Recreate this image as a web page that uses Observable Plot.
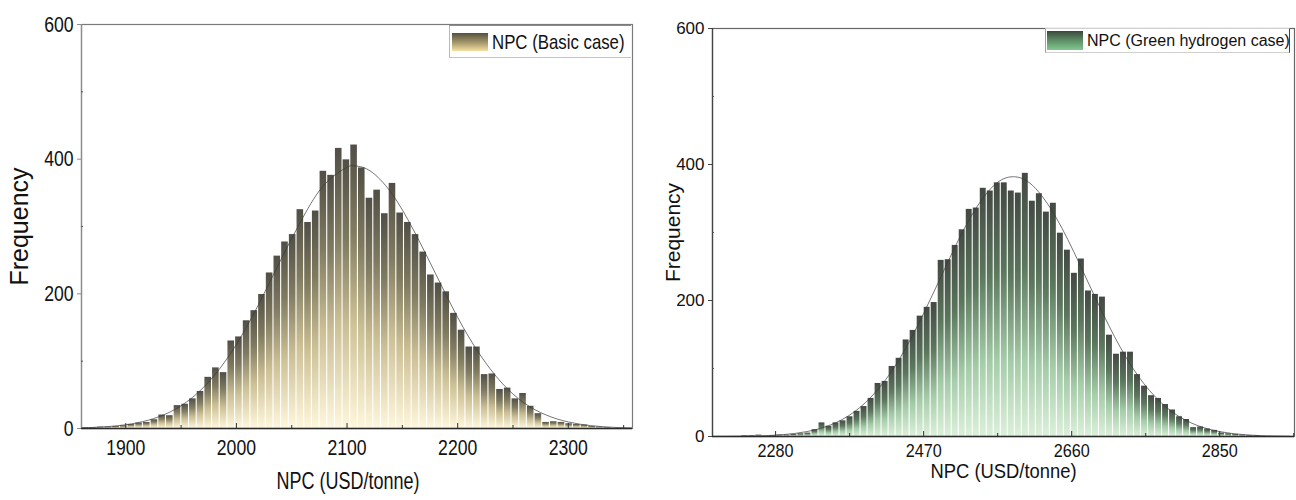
<!DOCTYPE html>
<html>
<head>
<meta charset="utf-8">
<script src="https://cdn.jsdelivr.net/npm/d3@7"></script>
<script src="https://cdn.jsdelivr.net/npm/@observablehq/plot@0.6"></script>
<style>
  html, body { margin: 0; padding: 0; background: #fff; }
  #wrap { position: relative; width: 1296px; height: 500px; overflow: hidden; font-family: "Liberation Sans", Arial, sans-serif; }
  #left, #right { position: absolute; top: 0; }
  #left { left: 0; }
  #right { left: 640px; }
  .legend { position: absolute; box-sizing: border-box; display: flex; align-items: center; background: #fff; color: #111; white-space: nowrap; overflow: hidden; }
  .sw { flex: none; }
  .narrow { display: inline-block; transform: scaleX(0.8); transform-origin: left center; }
</style>
</head>
<body>
<div id="wrap">
  <div id="left"></div>
  <div id="right"></div>
  <div class="legend" id="legL" style="left:449px; top:25px; width:182px; height:33px; border-top:1px solid #8a8a8a; border-bottom:1px solid #c4c4c4; border-left:1px solid #b8b8b8; padding-left:2px;">
    <div class="sw" style="width:36px; height:18px; background:linear-gradient(to bottom,#564f3e,#a89a6e 55%,#f6e0a0);"></div>
    <span class="narrow" style="margin-left:4px; font-size:21px;">NPC (Basic case)</span>
  </div>
  <div class="legend" id="legR" style="left:1045px; top:28px; width:245px; height:25px; border-top:1px solid #d0d0d0; border-bottom:1px solid #d0d0d0; border-left:1px solid #a0a0a0; border-right:1px solid #444; padding-left:1px;">
    <div class="sw" style="width:36px; height:19px; background:linear-gradient(to bottom,#3b473b,#5f8f66 50%,#82c892);"></div>
    <span style="margin-left:4px; font-size:16px;">NPC (Green hydrogen case)</span>
  </div>
</div>
<script>
// ---------- DATA ----------
// Left panel: NPC, basic case
const leftBinStart = 1860;
const leftBinWidth = 6.94;
const leftCounts = [1,1,2,2,3,4,6,8,9,13, 20,19,34,36,44,55,76,90,83,
  130,136,160,175,199,231,256,277,288,
  325,306,323,382,376,416,399,421,387,
  342,354,319,364,320,306,288,262,228,
  216,203,171,146,121,121,80,81,58,
  60,44,52,33,22,9,10,9,7,6,5,3,2,1];
const leftCurveX = [1860,1880,1900,1920,1940,1960,1980,2000,2020,2040,2060,2080,2100,2107,2120,2140,2160,2180,2200,2220,2240,2260,2280,2300,2320,2340,2358];
const leftCurveY = [0.9,2.4,5.6,12.2,24.5,45.7,78.7,125,184,250,313,363,388,390,383.5,350,295,230,165,110,67.5,38,20,9.7,4.3,1.8,0.8];
const leftTicks = [1900,2000,2100,2200,2300];
const leftMinor = [1950,2050,2150,2250,2350];

// Right panel: NPC, green hydrogen case
const rightBinStart = 2200;
const rightBinWidth = 9;
const rightCounts = [0,0,0,0,1,1,2,0,1,2, 2,3,4,5,
  10,20,15,20,23,29,37,44,56,
  78,81,103,115,142,156,177,190,197,
  259,260,281,304,334,336,365,361,373,
  373,361,358,387,346,357,330,343,299,
  274,240,261,214,209,205,149,121,124,
  124,91,74,60,56,47,39,29,25,
  13,14,11,9,5,4,3,2,1,1,0];
const rightCurveX = [2200,2230,2260,2290,2320,2350,2380,2410,2440,2470,2500,2530,2560,2585,2610,2640,2670,2700,2730,2760,2790,2820,2850,2880,2910,2940];
const rightCurveY = [0.1,0.3,1.0,2.8,7.2,16.8,35.4,67.5,116,181,254,322,369,382,369,322,254,181,116,67.5,35.4,16.8,7.2,2.8,1.0,0.3];
const rightTicks = [2280,2470,2660,2850];
const rightMinor = [2375,2565,2755,2945];

const yTicks = [0,200,400,600];
const yMinor = [100,300,500];
const xTitle = "NPC (USD/tonne)";
const yTitle = "Frequency";

// ---------- DRAW ----------
const regular = "'Liberation Sans',Arial,sans-serif";

function addGradient(svg, id, stops) {
  const defs = d3.select(svg).insert("defs", ":first-child");
  const g = defs.append("linearGradient").attr("id", id)
    .attr("x1", 0).attr("y1", 0).attr("x2", 0).attr("y2", 1);
  stops.forEach(([o, c]) => g.append("stop").attr("offset", o).attr("stop-color", c));
}

// horizontally condense text (the reference uses a narrow face)
function condenseEl(el, k) {
  const b = el.getBBox();
  const anchor = getComputedStyle(el).textAnchor;
  const ax = anchor === "middle" ? b.x + b.width / 2 : anchor === "end" ? b.x + b.width : b.x;
  const old = el.getAttribute("transform") || "";
  el.setAttribute("transform", `${old} translate(${ax},0) scale(${k},1) translate(${-ax},0)`);
}
function condense(svg, selector, k) {
  d3.select(svg).selectAll(selector).each(function () { condenseEl(this, k); });
}
function condenseByText(svg, str, k) {
  d3.select(svg).selectAll("text").filter(function () { return this.textContent === str; })
    .each(function () { condenseEl(this, k); });
}

function panel(cfg, host) {
  const bins = cfg.counts.map((c, i) => ({x1: cfg.start + i * cfg.width, x2: cfg.start + (i + 1) * cfg.width, y: c}));
  const curve = cfg.curveX.map((x, i) => ({x, y: cfg.curveY[i]}));
  const pw = cfg.W - cfg.mL - cfg.mR;
  const ph = 500 - cfg.mT - cfg.mB;
  const svg = Plot.plot({
    width: cfg.W, height: 500,
    marginLeft: cfg.mL, marginRight: cfg.mR, marginTop: cfg.mT, marginBottom: cfg.mB,
    style: {background: "white", color: "#111", fontFamily: regular},
    x: {domain: cfg.domain},
    y: {domain: [0, 600]},
    marks: [
      Plot.rectY(bins, {x1: "x1", x2: "x2", y: "y", fill: `url(#${cfg.gid})`, insetLeft: 0.55, insetRight: 0.55}),
      Plot.line(curve, {x: "x", y: "y", stroke: "#3a3a3a", strokeWidth: 0.7, curve: "natural"}),
      Plot.frame({stroke: cfg.frameColor, strokeWidth: 1.2}),
      Plot.ruleX([cfg.domain[0]], {stroke: cfg.yAxisColor, strokeWidth: 1.3}),
      Plot.ruleY([0], {stroke: cfg.xAxisColor, strokeWidth: 1.4}),
      Plot.axisX({ticks: cfg.ticks, tickFormat: d => String(d), tickSize: 0, tickPadding: cfg.xPad,
        fontSize: cfg.xFont, label: null}),
      Plot.tickX(cfg.ticks, {x: d => d, insetTop: ph - 5, stroke: "#333"}),
      Plot.tickX(cfg.minor.filter(v => v < cfg.domain[1]), {x: d => d, insetTop: ph - 3, stroke: "#333"}),
      Plot.axisY({ticks: yTicks, tickFormat: d => String(d), tickSize: 4, tickPadding: cfg.yPad,
        stroke: cfg.yAxisColor, fontSize: cfg.yFont, label: null}),
      Plot.tickY(yMinor, {y: d => d, insetRight: pw - 2, stroke: "#555"}),
      Plot.text([xTitle], {text: d => d, frameAnchor: "bottom", textAnchor: "middle", dx: cfg.xTitleDx, dy: cfg.xTitleDy,
        fontSize: cfg.xTitleFont, fill: "#111"}),
      Plot.text([yTitle], {text: d => d, frameAnchor: "left", textAnchor: "middle", lineAnchor: "middle",
        dx: cfg.yTitleDx, rotate: -90, fontSize: cfg.yTitleFont, fill: "#111"})
    ]
  });
  addGradient(svg, cfg.gid, cfg.stops);
  host.append(svg);
  cfg.narrow.forEach(([sel, k]) => condense(svg, sel, k));
  if (cfg.titleNarrow) condenseByText(svg, xTitle, cfg.titleNarrow);
  return svg;
}

panel({
  W: 640, mL: 81, mR: 8, mT: 24, mB: 72,
  domain: [1860, 2358], start: leftBinStart, width: leftBinWidth, counts: leftCounts,
  curveX: leftCurveX, curveY: leftCurveY, ticks: leftTicks, minor: leftMinor,
  gid: "gradL",
  stops: [[0, "#514f46"], [0.3, "#7f7a5f"], [0.62, "#cbbf94"], [1, "#fff7dc"]],
  frameColor: "#7a7a7a", yAxisColor: "#8c8c8c", xAxisColor: "#2a2a2a",
  xPad: 11, xFont: 22, yPad: 4, yFont: 22,
  xTitleDx: -9, xTitleDy: 60, xTitleFont: 24,
  yTitleDx: -62, yTitleFont: 25,
  narrow: [['g[aria-label="x-axis tick label"] text', 0.8], ['g[aria-label="y-axis tick label"] text', 0.8]],
  titleNarrow: 0.75
}, document.getElementById("left"));

panel({
  W: 656, mL: 72, mR: 2, mT: 28, mB: 64,
  domain: [2199, 2946], start: rightBinStart, width: rightBinWidth, counts: rightCounts,
  curveX: rightCurveX, curveY: rightCurveY, ticks: rightTicks, minor: rightMinor,
  gid: "gradR",
  stops: [[0, "#434943"], [0.35, "#5b775d"], [0.7, "#a5cca9"], [1, "#dcf0da"]],
  frameColor: "#666", yAxisColor: "#444", xAxisColor: "#2a2a2a",
  xPad: 8, xFont: 18, yPad: 4, yFont: 17,
  xTitleDx: 0, xTitleDy: 41, xTitleFont: 20,
  yTitleDx: -39, yTitleFont: 21,
  narrow: [['g[aria-label="x-axis tick label"] text', 0.9]],
  titleNarrow: 0.92
}, document.getElementById("right"));
</script>
</body>
</html>
